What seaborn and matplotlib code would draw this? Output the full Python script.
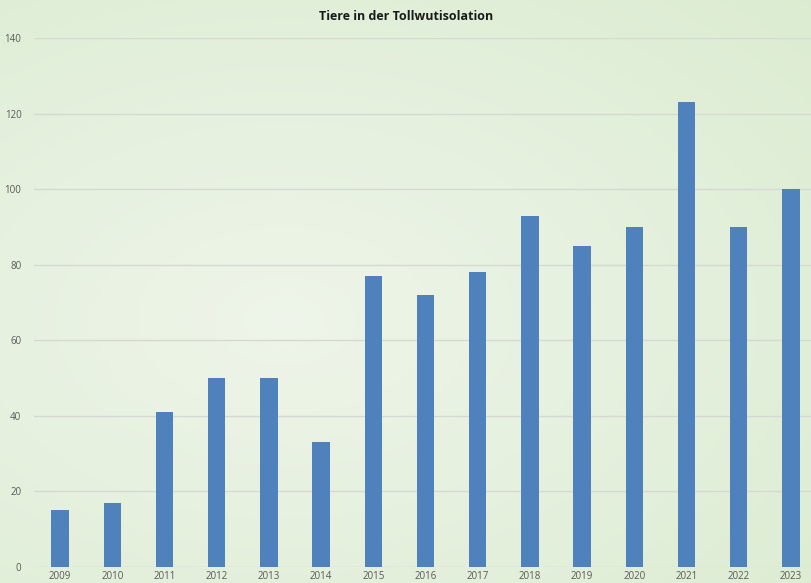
import matplotlib
matplotlib.use("Agg")
import matplotlib.pyplot as plt
import seaborn as sns
import pandas as pd
import numpy as np

years = ['2009', '2010', '2011', '2012', '2013', '2014', '2015', '2016',
         '2017', '2018', '2019', '2020', '2021', '2022', '2023']
tiere = [15, 17, 41, 50, 50, 33, 77, 72, 78, 93, 85, 90, 123, 90, 100]
title = 'Tiere in der Tollwutisolation'

sns.set_style("white")
plt.rcParams['font.family'] = ['Open Sans', 'DejaVu Sans']

df = pd.DataFrame({'Jahr': years, 'Tiere': tiere})

fig = plt.figure(figsize=(8.12, 5.83), dpi=100)

# pale green backdrop
bg = fig.add_axes([0, 0, 1, 1], zorder=-10)
yy, xx = np.mgrid[0:1:200j, 0:1:300j]
light = np.array([0.935, 0.960, 0.915])
green = np.array([0.860, 0.925, 0.820])
d = np.clip(np.sqrt(((xx - 0.35) / 0.9) ** 2 + ((yy - 0.55) / 0.8) ** 2), 0, 1)
img = light[None, None, :] * (1 - d[..., None]) + green[None, None, :] * d[..., None]
bg.imshow(img, aspect='auto', extent=[0, 1, 0, 1])
bg.axis('off')

ax = fig.add_axes([34 / 812, 16 / 583, 783 / 812, 529 / 583])
ax.patch.set_alpha(0)
sns.barplot(data=df, x='Jahr', y='Tiere', color='#4f81bd', saturation=1,
            width=0.33, edgecolor='none', linewidth=0, ax=ax, zorder=3)

ax.set_ylim(0, 140)
ax.set_xlim(-0.5, len(years) - 0.5)
ax.set_yticks(range(0, 141, 20))
ax.yaxis.grid(True, color='#d6d9d3', linewidth=1, zorder=0)
ax.set_axisbelow(True)
sns.despine(ax=ax, left=True, bottom=True)
ax.tick_params(axis='both', length=0, labelsize=7, labelcolor='#595959')
ax.tick_params(axis='y', pad=9)
ax.tick_params(axis='x', pad=3)
ax.set_xlabel('')
ax.set_ylabel('')

fig.text(0.5, 1 - 17 / 583, title, ha='center', va='center',
         fontsize=9, fontweight='bold', color='#1a1a1a')

fig.savefig('out.png', dpi=100)
